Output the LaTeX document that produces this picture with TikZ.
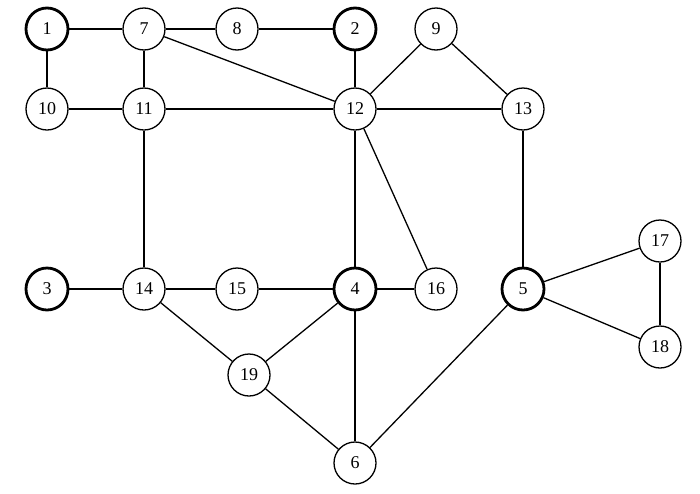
\documentclass[tikz,border=0pt]{standalone}
\usepackage{fontspec}
\setmainfont{Liberation Serif}
\begin{document}
\begin{tikzpicture}[x=1pt,y=-1pt,
  vtx/.style={circle,draw,line width=1.3pt,minimum size=42pt,inner sep=0pt,font=\fontsize{18}{18}\selectfont},
  hub/.style={vtx,line width=2.8pt},
  edge/.style={line width=1.3pt}]
\useasboundingbox (0,0) rectangle (700,493);
\node[hub] (n1) at (47,29) {1};
\node[vtx] (n7) at (144,29) {7};
\node[vtx] (n8) at (237,29) {8};
\node[hub] (n2) at (355,29) {2};
\node[vtx] (n9) at (436,29) {9};
\node[vtx] (n10) at (47,109) {10};
\node[vtx] (n11) at (144,109) {11};
\node[vtx] (n12) at (355,109) {12};
\node[vtx] (n13) at (523,109) {13};
\node[hub] (n3) at (47,289) {3};
\node[vtx] (n14) at (144,289) {14};
\node[vtx] (n15) at (237,289) {15};
\node[hub] (n4) at (355,289) {4};
\node[vtx] (n16) at (436,289) {16};
\node[hub] (n5) at (523,289) {5};
\node[vtx] (n17) at (660,241) {17};
\node[vtx] (n18) at (660,347) {18};
\node[vtx] (n19) at (249,375) {19};
\node[vtx] (n6) at (355,463) {6};
\foreach \a/\b in {n1/n7,n1/n10,n7/n8,n8/n2,n7/n11,n7/n12,n10/n11,n11/n12,n2/n12,n9/n12,n9/n13,n12/n13,n11/n14,n12/n4,n12/n16,n13/n5,n3/n14,n14/n15,n15/n4,n4/n16,n14/n19,n4/n19,n4/n6,n19/n6,n5/n6,n5/n17,n5/n18,n17/n18}
  \draw[edge] (\a) -- (\b);
\end{tikzpicture}
\end{document}
